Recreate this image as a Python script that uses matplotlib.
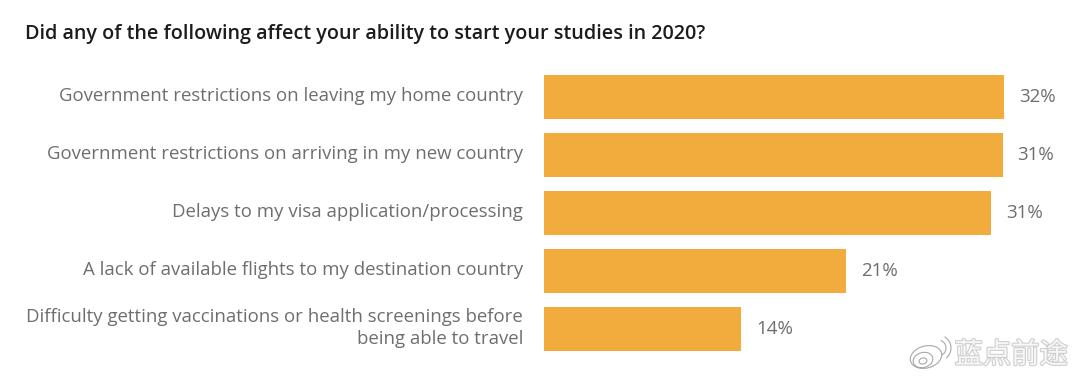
import matplotlib
matplotlib.use('Agg')
import matplotlib.pyplot as plt
import matplotlib.patheffects as pe
from matplotlib.patches import Ellipse, Arc

title = 'Did any of the following affect your ability to start your studies in 2020?'
labels = ['Government restrictions on leaving my home country',
          'Government restrictions on arriving in my new country',
          'Delays to my visa application/processing',
          'A lack of available flights to my destination country',
          'Difficulty getting vaccinations or health screenings before\nbeing able to travel']
# bar lengths, the printed labels are rounded
values = [32.0, 31.9, 31.1, 21.0, 13.7]
value_labels = ['32%', '31%', '31%', '21%', '14%']
watermark = '蓝点前途'

W, H = 1080, 382
plt.rcParams['font.family'] = ['Open Sans', 'DejaVu Sans']
fig = plt.figure(figsize=(W/100, H/100), dpi=100)
ax = fig.add_axes([544/W, 1-356/H, 536/W, 290/H])

scale = 32.0/(1004-544)
ax.set_xlim(0, 536*scale)
ypos = list(range(len(labels)))
ax.set_ylim(4.466, -0.534)
ax.barh(ypos, values, height=0.759, color='#F2AC3D')
ax.axis('off')

for y, v, t, lab in zip(ypos, values, value_labels, labels):
    ax.annotate(t, (v, y), xytext=(10.8, 0), textcoords='offset points',
                va='center', ha='left', fontsize=13.5, color='#6e6e6e')
    ax.annotate(lab, (0, y), xytext=(-15.1, 0.5), textcoords='offset points',
                va='center', ha='right', multialignment='right', fontsize=13.42,
                color='#6e6e6e', linespacing=1.27)

fig.text(25/W, 1-33.5/H, title, fontsize=14.2, fontweight='semibold', color='#1c1c1c',
         va='center', ha='left')

# watermark: logo outline and shadowed text, pixel coords
wm = fig.add_axes([0, 0, 1, 1], facecolor='none')
wm.set_xlim(0, W)
wm.set_ylim(H, 0)
wm.axis('off')
logo = dict(fill=False, edgecolor='#a8a8a8', linewidth=0.8)
wm.add_patch(Ellipse((926, 357), 32, 22, angle=-15, **logo))
wm.add_patch(Ellipse((923, 360), 20, 15, angle=-15, **logo))
wm.add_patch(Ellipse((923, 361), 8, 6, angle=-15, **logo))
wm.add_patch(Arc((938, 348), 16, 16, theta1=-70, theta2=60, **logo))
wm.add_patch(Arc((938, 348), 26, 26, theta1=-60, theta2=50, **logo))
wm.text(1068, 355, watermark, fontsize=20.4, color='#f7f7f7', va='center', ha='right',
        family=['Noto Sans CJK SC', 'DejaVu Sans'],
        path_effects=[pe.withStroke(linewidth=1.6, foreground='#cfcfcf')])

fig.savefig('out.png', dpi=100, facecolor='white')
